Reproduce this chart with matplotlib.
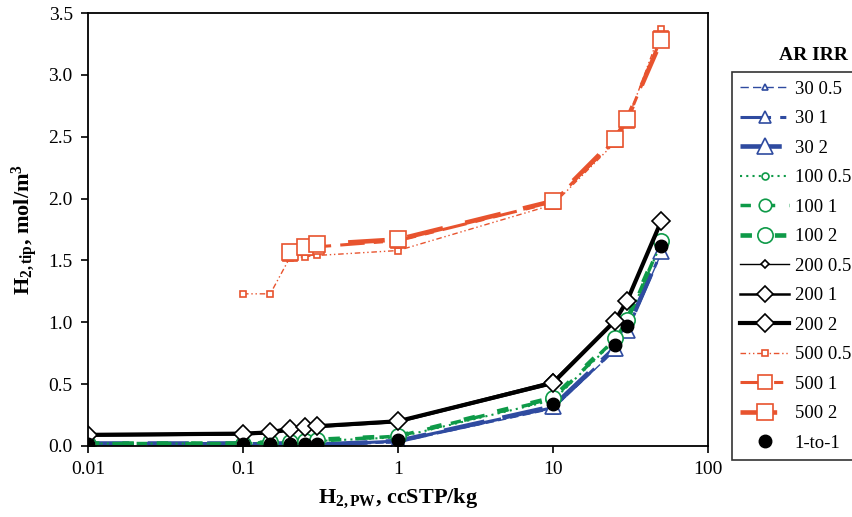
import matplotlib
matplotlib.use("Agg")
import matplotlib.pyplot as plt
from matplotlib.ticker import FixedLocator, NullLocator, FixedFormatter

plt.rcParams['font.family'] = ['Liberation Serif', 'DejaVu Serif']
plt.rcParams['mathtext.fontset'] = 'custom'
plt.rcParams['mathtext.rm'] = 'Liberation Serif'
plt.rcParams['mathtext.bf'] = 'Liberation Serif:bold'
plt.rcParams['mathtext.it'] = 'Liberation Serif:italic'

# ---------------- data ----------------
x_all = [0.01, 0.1, 0.15, 0.2, 0.25, 0.3, 1, 10, 25, 30, 50]
x_500_05 = [0.1, 0.15, 0.2, 0.25, 0.3, 1, 10, 25, 30, 50]
x_500 = [0.2, 0.25, 0.3, 1, 10, 25, 30, 50]

y_30_05 = [0.01, 0.01, 0.01, 0.01, 0.00, 0.00, 0.03, 0.30, 0.77, 0.92, 1.56]
y_30_1 = [0.02, 0.02, 0.02, 0.02, 0.01, 0.01, 0.04, 0.31, 0.78, 0.93, 1.57]
y_30_2 = [0.02, 0.02, 0.02, 0.02, 0.01, 0.01, 0.04, 0.32, 0.79, 0.94, 1.58]
y_100_05 = [0.02, 0.02, 0.03, 0.03, 0.04, 0.04, 0.07, 0.37, 0.85, 1.00, 1.64]
y_100_1 = [0.02, 0.02, 0.03, 0.03, 0.04, 0.04, 0.08, 0.38, 0.86, 1.01, 1.65]
y_100_2 = [0.02, 0.02, 0.03, 0.03, 0.04, 0.05, 0.08, 0.39, 0.87, 1.02, 1.66]
y_200_05 = [0.08, 0.09, 0.10, 0.12, 0.14, 0.15, 0.19, 0.50, 1.00, 1.16, 1.81]
y_200_1 = [0.09, 0.10, 0.11, 0.14, 0.15, 0.16, 0.20, 0.52, 1.01, 1.17, 1.82]
y_200_2 = [0.09, 0.10, 0.11, 0.14, 0.15, 0.16, 0.20, 0.51, 1.01, 1.17, 1.82]
y_500_05 = [1.23, 1.23, 1.52, 1.53, 1.54, 1.58, 1.95, 2.45, 2.62, 3.37]
y_500_1 = [1.55, 1.60, 1.61, 1.66, 1.97, 2.47, 2.63, 3.30]
y_500_2 = [1.57, 1.61, 1.63, 1.67, 1.98, 2.48, 2.64, 3.28]
y_1to1 = [0.02, 0.02, 0.02, 0.02, 0.02, 0.02, 0.05, 0.34, 0.82, 0.97, 1.62]

x_ticks = [0.01, 0.1, 1, 10, 100]
x_ticklabels = ['0.01', '0.1', '1', '10', '100']
y_ticks = [0.0, 0.5, 1.0, 1.5, 2.0, 2.5, 3.0, 3.5]
y_ticklabels = ['0.0', '0.5', '1.0', '1.5', '2.0', '2.5', '3.0', '3.5']

BLUE = '#2F4BA0'
GREEN = '#0E9A48'
BLACK = '#000000'
RED = '#E8532E'

fig = plt.figure(figsize=(8.52, 5.17), dpi=100)
ax = fig.add_axes([88/852, 1-446/517, (708-88)/852, (446-13)/517])

def plot(x, y, label, color, lw, dashes, marker, ms):
    kw = dict(color=color, lw=lw, marker=marker, ms=ms, mfc='white', mec=color,
              mew=1.2, label=label)
    if dashes is None:
        ax.plot(x, y, ls='-', **kw)
    else:
        ax.plot(x, y, dashes=dashes, **kw)

plot(x_all, y_30_05, '30 0.5', BLUE, 1.0, (6, 3), '^', 5)
plot(x_all, y_30_1, '30 1', BLUE, 2.2, (10, 3, 2, 3), '^', 9)
plot(x_all, y_30_2, '30 2', BLUE, 3.3, (9, 4), '^', 11)
plot(x_all, y_100_05, '100 0.5', GREEN, 1.5, (1, 2), 'o', 5)
plot(x_all, y_100_1, '100 1', GREEN, 2.5, (3, 4), 'o', 9)
plot(x_all, y_100_2, '100 2', GREEN, 3.3, (2.5, 5), 'o', 11)
plot(x_all, y_200_05, '200 0.5', BLACK, 1.0, None, 'D', 4)
plot(x_all, y_200_1, '200 1', BLACK, 1.8, None, 'D', 8)
plot(x_all, y_200_2, '200 2', BLACK, 3.0, None, 'D', 9)
plot(x_500_05, y_500_05, '500 0.5', RED, 1.0, (4, 2, 1, 2, 1, 2), 's', 5)
plot(x_500, y_500_1, '500 1', RED, 2.2, (8, 3, 3, 3), 's', 10)
plot(x_500, y_500_2, '500 2', RED, 3.3, (8, 5), 's', 12)
ax.plot(x_all, y_1to1, ls='none', marker='o', ms=9, color='black', label='1-to-1')

ax.set_xscale('log')
ax.set_xlim(0.01, 100)
ax.set_ylim(0, 3.5)
ax.xaxis.set_major_locator(FixedLocator(x_ticks))
ax.xaxis.set_major_formatter(FixedFormatter(x_ticklabels))
ax.xaxis.set_minor_locator(NullLocator())
ax.set_yticks(y_ticks)
ax.set_yticklabels(y_ticklabels)
ax.tick_params(direction='out', length=5, width=1.2, labelsize=14, pad=6)
for s in ax.spines.values():
    s.set_linewidth(1.3)

ax.set_xlabel(r'H$_{\mathbf{2,PW}}$, ccSTP/kg', fontsize=16, fontweight='bold', labelpad=6)
ax.set_ylabel(r'H$_{\mathbf{2,tip}}$, mol/m$^{\mathbf{3}}$', fontsize=16, fontweight='bold', labelpad=6)

leg = fig.legend(loc='upper left', bbox_to_anchor=(732/852, 1-72/517), frameon=True,
                 fontsize=13.5, handlelength=2.6, handletextpad=0.3, labelspacing=0.66,
                 borderaxespad=0, borderpad=0.45, fancybox=False, edgecolor='black')
leg.get_frame().set_linewidth(1.2)
fig.text(848/852, 1-55/517, 'AR IRR', ha='right', va='center', fontsize=14, fontweight='bold')

fig.savefig('out.png', dpi=100)
